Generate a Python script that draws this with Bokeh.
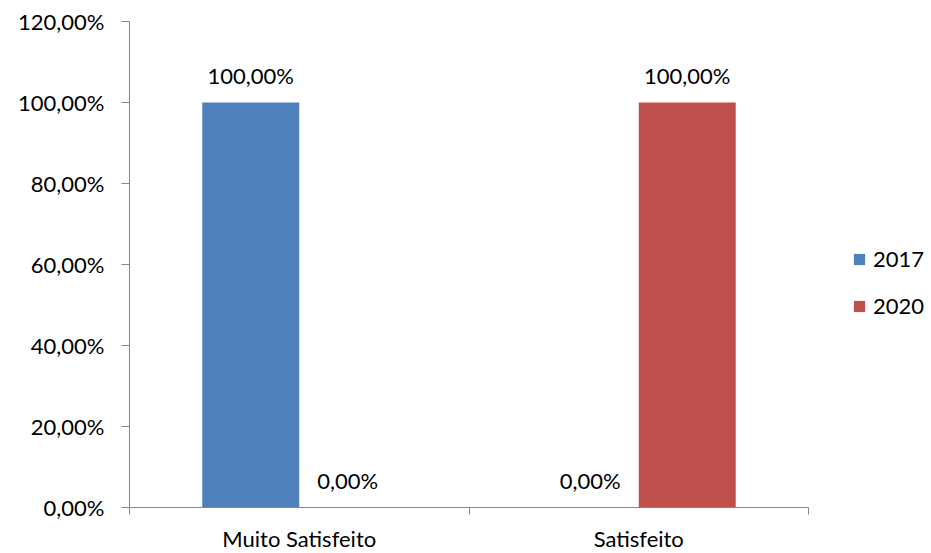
from bokeh.plotting import figure
from bokeh.models import ColumnDataSource, FixedTicker, Legend, LegendItem, Range1d
from bokeh.transform import dodge
from bokeh.core.properties import value
from bokeh.embed import file_html
from bokeh.resources import INLINE

categories = ["Muito Satisfeito", "Satisfeito"]
series = ["2017", "2020"]
v2017 = [1.0, 0.0]
v2020 = [0.0, 1.0]
y_ticks = [0.0, 0.2, 0.4, 0.6, 0.8, 1.0, 1.2]

colors = ["#4F81BD", "#C0504D"]
FONT = "Lato"
FS = "22px"

def fmt(v):
    return f"{v*100:.2f}%".replace(".", ",")

xpos = [i + 0.5 for i in range(len(categories))]
src = ColumnDataSource(dict(
    x=xpos,
    v2017=v2017, v2020=v2020,
    l2017=[fmt(v) for v in v2017], l2020=[fmt(v) for v in v2020],
))

p = figure(output_backend="svg", toolbar_location=None,
           frame_width=679, frame_height=486,
           min_border_left=129, min_border_top=21, min_border_bottom=38,
           min_border_right=115,
           x_range=Range1d(0, len(categories)), y_range=Range1d(0, 1.2))
p.outline_line_color = None
p.xgrid.visible = False
p.ygrid.visible = False

bw = 0.2857
r1 = p.vbar(x=dodge("x", -bw/2, range=p.x_range), top="v2017", width=bw, source=src,
            fill_color=colors[0], line_color=None)
r2 = p.vbar(x=dodge("x", bw/2, range=p.x_range), top="v2020", width=bw, source=src,
            fill_color=colors[1], line_color=None)

for col, lab, off in [("v2017", "l2017", -bw/2), ("v2020", "l2020", bw/2)]:
    p.text(x=dodge("x", off, range=p.x_range), y=col, text=lab, source=src,
           text_align="center", text_baseline="middle", y_offset=-27,
           text_font=value(FONT), text_font_size=FS, text_color="#000000")

axis_color = "#868686"
p.yaxis.ticker = FixedTicker(ticks=y_ticks)
p.yaxis.major_label_overrides = {t: fmt(t) for t in y_ticks}
p.yaxis.axis_line_color = axis_color
p.yaxis.major_tick_line_color = axis_color
p.yaxis.major_tick_out = 8
p.yaxis.major_tick_in = 0
p.yaxis.minor_tick_line_color = None
p.yaxis.major_label_standoff = 17
p.yaxis.major_label_text_font = FONT
p.yaxis.major_label_text_font_size = FS
p.yaxis.major_label_text_color = "#000000"

p.xaxis.ticker = FixedTicker(ticks=xpos, minor_ticks=[float(i) for i in range(len(categories) + 1)])
p.xaxis.major_label_overrides = {x: c for x, c in zip(xpos, categories)}
p.xaxis.axis_line_color = axis_color
p.xaxis.major_tick_line_color = None
p.xaxis.major_tick_out = 0
p.xaxis.major_tick_in = 0
p.xaxis.minor_tick_line_color = axis_color
p.xaxis.minor_tick_out = 7
p.xaxis.minor_tick_in = 0
p.xaxis.major_label_standoff = 10
p.xaxis.major_label_text_font = FONT
p.xaxis.major_label_text_font_size = FS
p.xaxis.major_label_text_color = "#000000"

legend = Legend(items=[LegendItem(label=series[0], renderers=[r1]),
                       LegendItem(label=series[1], renderers=[r2])],
                location=(44, 188), border_line_color=None, background_fill_alpha=0,
                glyph_width=14, glyph_height=14, label_standoff=7, spacing=20,
                padding=0, margin=0,
                label_text_font=FONT, label_text_font_size=FS,
                label_text_color="#000000")
legend.label_height = 23
p.add_layout(legend, "right")

open("out.html", "w").write(file_html(p, INLINE))
